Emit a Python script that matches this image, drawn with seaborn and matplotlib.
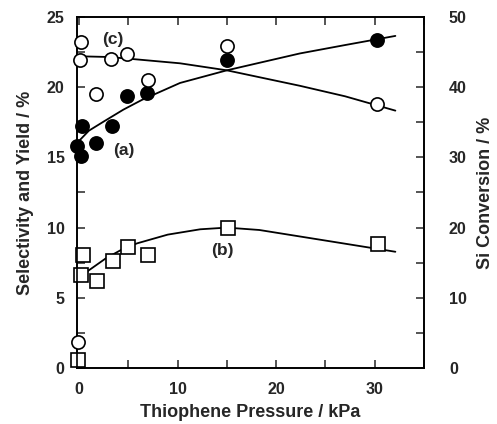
import matplotlib
matplotlib.use('Agg')
import matplotlib.pyplot as plt
import seaborn as sns
import numpy as np
from matplotlib.ticker import MultipleLocator

# dados
# (a) seletividade, circulos cheios (eixo esquerdo)
a_x = [-0.2, 0.2, 0.3, 1.7, 3.35, 4.9, 6.9, 15.0, 30.2]
a_y = [15.8, 15.1, 17.2, 16.05, 17.25, 19.35, 19.6, 21.9, 23.35]
# (b) rendimento, quadrados (eixo esquerdo)
b_x = [-0.1, 0.25, 0.4, 1.8, 3.4, 4.95, 7.05, 15.1, 30.35]
b_y = [0.6, 6.6, 8.05, 6.2, 7.65, 8.65, 8.05, 10.0, 8.8]
# (c) conversao de Si, circulos abertos (eixo direito)
c_x = [-0.1, 0.2, 0.15, 1.7, 3.25, 4.9, 6.95, 15.0, 30.2]
c_y = [3.7, 46.5, 43.9, 39.0, 44.0, 44.7, 41.0, 45.8, 37.6]

# curvas ajustadas
fit_a_x = [-0.1, 1.0, 2.5, 4.5, 6.4, 10.25, 15.0, 22.4, 27.0, 32.1]
fit_a_y = [16.1, 16.9, 17.55, 18.4, 19.1, 20.3, 21.2, 22.4, 23.0, 23.65]
fit_b_x = [0.8, 2.7, 4.5, 5.9, 9.0, 12.3, 15.0, 18.3, 25.7, 32.1]
fit_b_y = [6.86, 7.8, 8.5, 8.88, 9.5, 9.88, 10.0, 9.83, 9.0, 8.28]
fit_c_x = [0.0, 3.0, 5.5, 10.25, 15.0, 22.4, 27.0, 32.1]
fit_c_y = [44.4, 44.3, 44.0, 43.4, 42.4, 40.2, 38.7, 36.66]

sns.set_style('ticks')
plt.rcParams['font.family'] = ['Liberation Sans', 'DejaVu Sans']
plt.rcParams['font.weight'] = 'bold'

fig = plt.figure(figsize=(4.97, 4.24), dpi=100)
ax = fig.add_axes([0.155, 0.132, 0.698, 0.828])
ax2 = ax.twinx()

lw = 1.3
ms = 9.5
sns.lineplot(x=fit_a_x, y=fit_a_y, ax=ax, color='black', lw=lw, sort=False)
sns.lineplot(x=fit_b_x, y=fit_b_y, ax=ax, color='black', lw=lw, sort=False)
sns.lineplot(x=fit_c_x, y=fit_c_y, ax=ax2, color='black', lw=lw, sort=False)

ax.plot(a_x, a_y, 'o', ms=ms, mfc='black', mec='black', mew=1.2, clip_on=False, zorder=5)
ax.plot(b_x, b_y, 's', ms=ms, mfc='white', mec='black', mew=1.2, clip_on=False, zorder=5)
ax2.plot(c_x, c_y, 'o', ms=ms, mfc='white', mec='black', mew=1.2, clip_on=False, zorder=5)

ax.set_xlim(-0.2, 35)
ax.set_ylim(0, 25)
ax2.set_ylim(0, 50)

ax.xaxis.set_major_locator(MultipleLocator(10))
ax.xaxis.set_minor_locator(MultipleLocator(5))
ax.yaxis.set_major_locator(MultipleLocator(5))
ax.yaxis.set_minor_locator(MultipleLocator(2.5))
ax2.yaxis.set_major_locator(MultipleLocator(10))
ax2.yaxis.set_minor_locator(MultipleLocator(5))

ax.tick_params(axis='x', which='both', direction='in', top=True, length=6, width=1.1, labelsize=11.5, pad=10)
ax.tick_params(axis='y', which='both', direction='in', length=6, width=1.1, labelsize=11.5, pad=9, right=False)
ax2.tick_params(axis='y', which='both', direction='in', length=6, width=1.1, labelsize=11.5, pad=18)
for t in ax.get_xticklabels() + ax.get_yticklabels() + ax2.get_yticklabels():
    t.set_fontweight('bold')

for a in (ax, ax2):
    for s in a.spines.values():
        s.set_linewidth(1.2)
        s.set_color('black')

ax.set_xlabel('Thiophene Pressure / kPa', fontsize=13, fontweight='bold', labelpad=5)
ax.set_ylabel('Selectivity and Yield / %', fontsize=13, fontweight='bold', labelpad=9)
ax2.set_ylabel('Si Conversion / %', fontsize=13, fontweight='bold', labelpad=7)

ax.text(4.5, 15.5, '(a)', fontsize=12.5, fontweight='bold', ha='center', va='center')
ax.text(14.5, 8.4, '(b)', fontsize=12.5, fontweight='bold', ha='center', va='center')
ax.text(3.4, 23.4, '(c)', fontsize=12.5, fontweight='bold', ha='center', va='center')

fig.savefig('out.png', dpi=100)
